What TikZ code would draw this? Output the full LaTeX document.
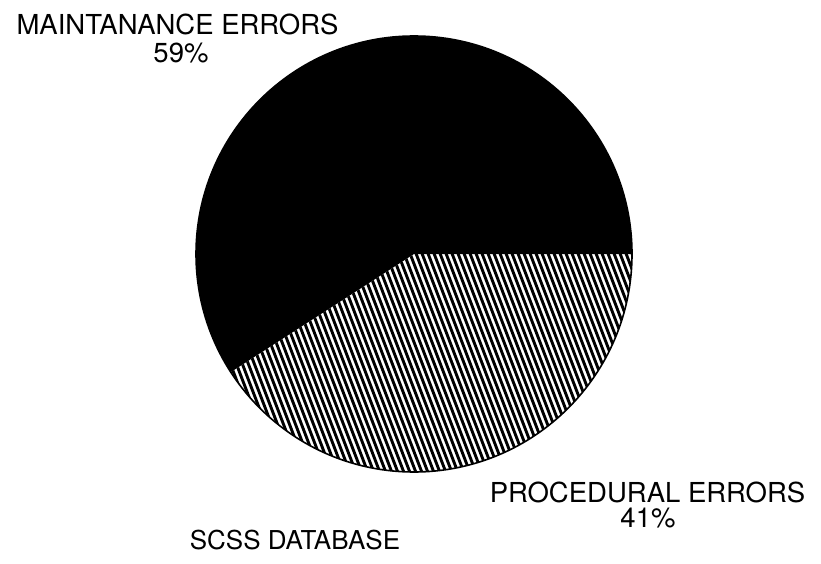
\documentclass[tikz,border=0pt]{standalone}
\usepackage{fontspec}
\setmainfont{TeX Gyre Heros}
\usepackage{tikz}
\tikzset{
  lbl/.style={font=\fontsize{27.5}{30}\selectfont, inner sep=0pt, anchor=base},
  hatchline/.style={line width=2.9pt},
  rim/.style={line width=1.6pt}
}

\begin{document}
\begin{tikzpicture}[x=1pt,y=1pt]
			\useasboundingbox (0,0) rectangle (821,563);
			\coordinate (c) at (414,309);
			% maintenance slice (59%)
			\fill (c) -- ++(0:218) arc (0:212.8:218) -- cycle;
			% procedural slice (41%), hatched
			\begin{scope}
				\clip (c) -- ++(212.8:218) arc (212.8:360:218) -- cycle;
				\foreach \x in {100,106,...,700}
					\draw[hatchline] (\x,320) -- ++(92,-240);
			\end{scope}
			\draw[rim] (c) circle (218);
			\node[lbl] (maint) at (177.5,528) {MAINTANANCE ERRORS};
			\node[lbl] (maintpct) at (181,500) {59\%};
			\node[lbl] (proc) at (647.5,61) {PROCEDURAL ERRORS};
			\node[lbl] (procpct) at (648,36) {41\%};
			\node[lbl, font=\fontsize{26}{28}\selectfont] (db) at (295,14) {SCSS DATABASE};
		\end{tikzpicture}
\end{document}
